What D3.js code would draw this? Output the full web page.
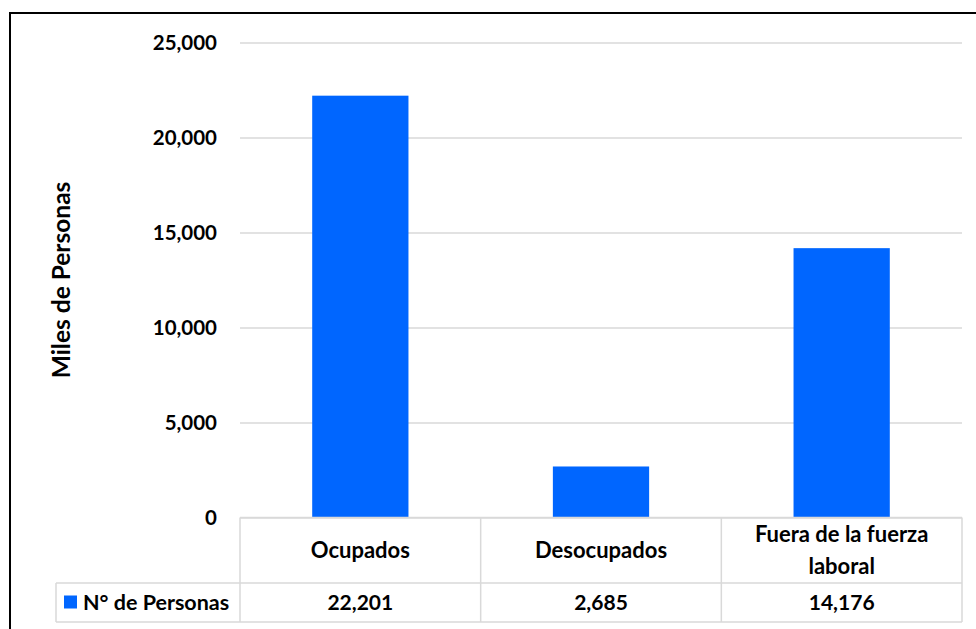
<!DOCTYPE html>
<html>
<head>
<meta charset="utf-8">
<script src="https://cdn.jsdelivr.net/npm/d3@7.9.0/dist/d3.min.js"></script>
<style>
  body { margin: 0; background: #fff; }
  svg { display: block; font-family: Lato, "Noto Sans", sans-serif; font-weight: bold; }
</style>
</head>
<body>
<svg id="chart" width="976" height="629"></svg>
<script>
const categories = ['Ocupados', 'Desocupados', 'Fuera de la fuerza laboral'];
const categoryLines = [['Ocupados'], ['Desocupados'], ['Fuera de la fuerza', 'laboral']];
const values = [22201, 2685, 14176];
const seriesName = 'N° de Personas';
const yTicks = [0, 5000, 10000, 15000, 20000, 25000];

const svg = d3.select('#chart');
const plotLeft = 240, plotRight = 962, plotTop = 42.5, plotBottom = 517.5;
const headerBottom = 583, tableBottom = 622, legendLeft = 56;
const barColor = '#0066ff';
const lineColor = '#d9d9d9';
const fmt = d3.format(',');

// outer frame
svg.append('rect')
  .attr('x', 10).attr('y', 13)
  .attr('width', 1000).attr('height', 700)
  .attr('fill', 'none').attr('stroke', '#000').attr('stroke-width', 2);

const x = d3.scaleBand()
  .domain(categories)
  .range([plotLeft, plotRight])
  .paddingInner(0.6)
  .paddingOuter(0.3);

const y = d3.scaleLinear().domain([0, 25000]).range([plotBottom, plotTop]);

// gridlines + tick labels
const yAxis = svg.append('g')
  .attr('transform', `translate(${plotLeft},0)`)
  .call(d3.axisLeft(y).tickValues(yTicks).tickSize(-(plotRight - plotLeft)).tickFormat(fmt).tickPadding(23));
yAxis.select('.domain').remove();
yAxis.selectAll('.tick line').attr('stroke', lineColor).attr('stroke-width', 1.5);
yAxis.selectAll('.tick text')
  .attr('fill', '#000')
  .style('font-size', '20.5px')
  .style('font-family', 'Lato, "Noto Sans", sans-serif')
  .style('font-weight', 'bold');

// y axis title
svg.append('text')
  .attr('transform', `translate(70,${(plotTop + plotBottom) / 2}) rotate(-90)`)
  .attr('text-anchor', 'middle')
  .style('font-size', '24.5px')
  .text('Miles de Personas');

// bars
svg.selectAll('rect.bar')
  .data(values)
  .join('rect')
  .attr('class', 'bar')
  .attr('x', (d, i) => x(categories[i]))
  .attr('width', x.bandwidth())
  .attr('y', d => y(d))
  .attr('height', d => y(0) - y(d))
  .attr('fill', barColor);

// data table
const table = svg.append('g').attr('stroke', lineColor).attr('stroke-width', 1.5).attr('fill', 'none');
table.append('line').attr('x1', plotLeft).attr('x2', plotRight).attr('y1', plotBottom).attr('y2', plotBottom);
table.append('line').attr('x1', legendLeft).attr('x2', plotRight).attr('y1', headerBottom).attr('y2', headerBottom);
table.append('line').attr('x1', legendLeft).attr('x2', plotRight).attr('y1', tableBottom).attr('y2', tableBottom);
table.append('line').attr('x1', legendLeft).attr('x2', legendLeft).attr('y1', headerBottom).attr('y2', tableBottom);
const step = x.step();
const colEdges = [plotLeft, plotLeft + step, plotLeft + 2 * step, plotRight];
table.selectAll('line.col')
  .data(colEdges)
  .join('line')
  .attr('class', 'col')
  .attr('x1', d => d).attr('x2', d => d)
  .attr('y1', plotBottom).attr('y2', tableBottom);

// category labels
const headerMid = (plotBottom + headerBottom) / 2;
categoryLines.forEach((lines, i) => {
  const cx = x(categories[i]) + x.bandwidth() / 2;
  const lh = 32;
  const t = svg.append('text')
    .attr('text-anchor', 'middle')
    .style('font-size', '22px');
  lines.forEach((ln, j) => {
    t.append('tspan')
      .attr('x', cx)
      .attr('y', headerMid + (j - (lines.length - 1) / 2) * lh)
      .attr('dy', '0.35em')
      .text(ln);
  });
});

// values row
const valMid = (headerBottom + tableBottom) / 2;
svg.selectAll('text.val')
  .data(values)
  .join('text')
  .attr('class', 'val')
  .attr('x', (d, i) => x(categories[i]) + x.bandwidth() / 2)
  .attr('y', valMid)
  .attr('dy', '0.35em')
  .attr('text-anchor', 'middle')
  .style('font-size', '21px')
  .text(d => fmt(d));

// legend key
svg.append('rect')
  .attr('x', 64).attr('y', valMid - 7)
  .attr('width', 13).attr('height', 13)
  .attr('fill', barColor);
svg.append('text')
  .attr('x', 83).attr('y', valMid)
  .attr('dy', '0.35em')
  .style('font-size', '21.5px')
  .text(seriesName);
</script>
</body>
</html>
